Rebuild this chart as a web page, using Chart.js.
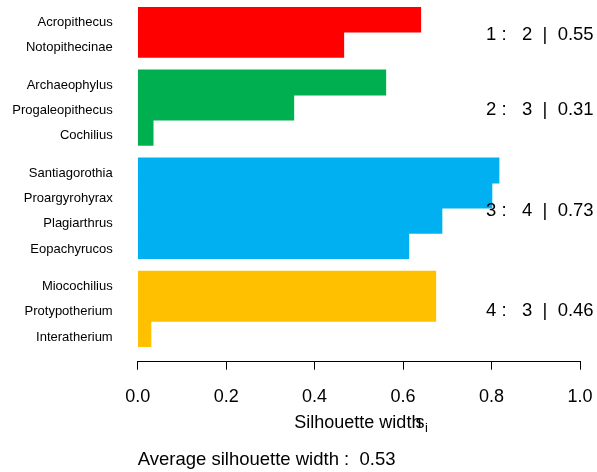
<!DOCTYPE html>
<html>
<head>
<meta charset="utf-8">
<script src="https://cdn.jsdelivr.net/npm/chart.js@4/dist/chart.umd.min.js"></script>
<style>
  html, body { margin: 0; padding: 0; background: #fff; }
  #wrap { width: 597px; height: 472px; }
</style>
</head>
<body>
<div id="wrap"><canvas id="sil"></canvas></div>
<script>
// silhouette widths, one row per observation, in plot order (top to bottom)
var names = ['Acropithecus', 'Notopithecinae',
             'Archaeophylus', 'Progaleopithecus', 'Cochilius',
             'Santiagorothia', 'Proargyrohyrax', 'Plagiarthrus', 'Eopachyrucos',
             'Miocochilius', 'Protypotherium', 'Interatherium'];
var clusterOf = [1, 1, 2, 2, 2, 3, 3, 3, 3, 4, 4, 4];
var widths = [0.640, 0.466, 0.561, 0.353, 0.035, 0.817, 0.801, 0.688, 0.613, 0.674, 0.674, 0.030];

// per cluster summary: size and average width
var clusterSizes = [2, 3, 4, 3];
var clusterAvg = [0.55, 0.31, 0.73, 0.46];
var clusterColors = ['#FF0000', '#00B050', '#00B0F0', '#FFC000'];
var avgWidth = 0.53;

var xTicks = [0, 0.2, 0.4, 0.6, 0.8, 1.0];

// row positions: half a row of space between clusters
var rowPos = [];
for (var i = 0; i < names.length; i++) {
  rowPos.push(i + 0.5 * (clusterOf[i] - 1));
}

var points = [];
var colors = [];
for (var i = 0; i < names.length; i++) {
  points.push({ x: widths[i], y: rowPos[i] });
  colors.push(clusterColors[clusterOf[i] - 1]);
}

var FONT = '"Liberation Sans", Arial, Helvetica, sans-serif';

var annotations = {
  id: 'annotations',
  afterDraw: function(chart) {
    var ctx = chart.ctx;
    var xs = chart.scales.x, ys = chart.scales.y;
    ctx.save();
    ctx.fillStyle = '#000';

    // cluster summaries on the right
    ctx.font = '18.5px ' + FONT;
    ctx.textAlign = 'left';
    ctx.textBaseline = 'middle';
    var start = 0;
    for (var c = 0; c < clusterSizes.length; c++) {
      var first = rowPos[start], last = rowPos[start + clusterSizes[c] - 1];
      var mid = (ys.getPixelForValue(first) + ys.getPixelForValue(last)) / 2;
      var txt = (c + 1) + ' :   ' + clusterSizes[c] + '  |  ' + clusterAvg[c].toFixed(2);
      ctx.fillText(txt, xs.getPixelForValue(0.7875), mid + 2.5);
      start += clusterSizes[c];
    }

    // axis title "Silhouette width s_i"
    ctx.font = '18px ' + FONT;
    ctx.textBaseline = 'alphabetic';
    var main = 'Silhouette width';
    var w1 = ctx.measureText(main).width;
    var midX = (xs.left + xs.right) / 2;
    var x0 = midX - w1 / 2 - 1;
    ctx.fillText(main, x0, 428);
    var sx = x0 + w1 - 6;
    ctx.fillText('s', sx, 428);
    var ws = ctx.measureText('s').width;
    ctx.font = '13px ' + FONT;
    ctx.fillText('i', sx + ws + 0.5, 432);

    // overall average
    ctx.font = '18.5px ' + FONT;
    ctx.fillText('Average silhouette width :  ' + avgWidth.toFixed(2), xs.left, 465);
    ctx.restore();
  }
};

new Chart(document.getElementById('sil'), {
  type: 'bar',
  data: {
    datasets: [{
      data: points,
      backgroundColor: colors,
      borderWidth: 0,
      barPercentage: 1.0,
      categoryPercentage: 1.0
    }]
  },
  options: {
    indexAxis: 'y',
    responsive: true,
    maintainAspectRatio: false,
    animation: false,
    layout: { padding: { top: 7, right: 17, left: 0, bottom: 0 } },
    plugins: { legend: { display: false }, tooltip: { enabled: false } },
    scales: {
      x: {
        type: 'linear',
        min: 0,
        max: 1,
        afterBuildTicks: function(scale) {
          scale.ticks = xTicks.map(function(v) { return { value: v }; });
        },
        afterFit: function(scale) {
          scale.height = 110.3;
          scale.paddingLeft = 0;
          scale.paddingRight = 0;
        },
        border: { display: true, color: '#000', width: 1 },
        grid: { drawOnChartArea: false, drawTicks: true, tickLength: 8, tickColor: '#000' },
        ticks: {
          color: '#000',
          font: { family: FONT, size: 18 },
          padding: 17,
          maxRotation: 0,
          callback: function(v) { return v.toFixed(1); }
        }
      },
      y: {
        type: 'linear',
        reverse: true,
        offset: false,
        min: -0.5,
        max: 13.6,
        afterBuildTicks: function(scale) {
          scale.ticks = rowPos.map(function(v) { return { value: v }; });
        },
        afterFit: function(scale) {
          scale.width = 137.7;
          scale.paddingTop = 0;
          scale.paddingBottom = 0;
        },
        border: { display: false },
        grid: { display: false, drawTicks: false },
        ticks: {
          color: '#000',
          font: { family: FONT, size: 13 },
          padding: 25,
          labelOffset: 3,
          autoSkip: false,
          callback: function(v) {
            var k = rowPos.indexOf(v);
            return k >= 0 ? names[k] : '';
          }
        }
      }
    }
  },
  plugins: [annotations]
});
</script>
</body>
</html>
